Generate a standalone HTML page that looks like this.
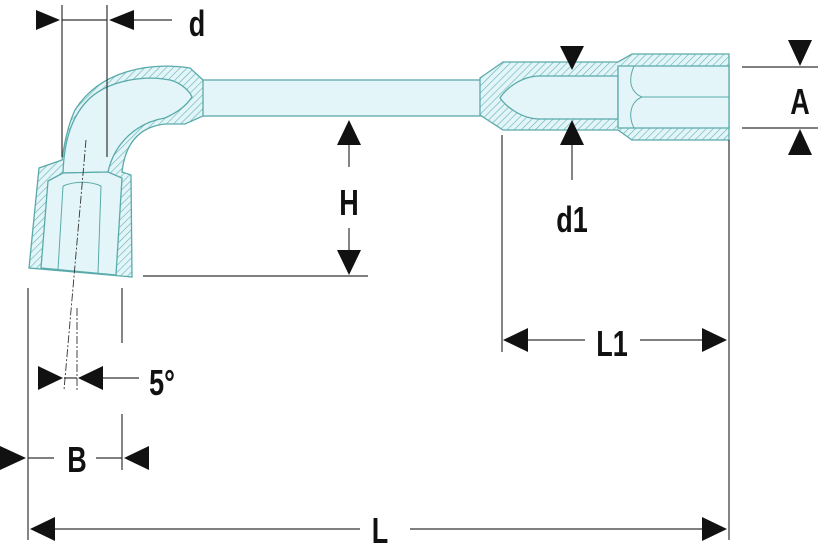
<!DOCTYPE html>
<html><head><style>
html,body{margin:0;padding:0;background:#fff;width:818px;height:547px;overflow:hidden}
svg{display:block}
text{font-family:"Liberation Sans",sans-serif;font-weight:bold;fill:#111}
</style></head><body>
<svg width="818" height="547" viewBox="0 0 818 547" xmlns="http://www.w3.org/2000/svg">
<defs>
<pattern id="h" patternUnits="userSpaceOnUse" width="5" height="5" patternTransform="rotate(45)">
<rect width="5" height="5" fill="#e3f5f8"/>
<line x1="0" y1="0" x2="0" y2="5" stroke="#5fb3b3" stroke-width="1.2"/>
</pattern>
</defs>
<g stroke="#5aaaaa" stroke-width="1.3">
<!-- shaft -->
<rect x="200" y="80" width="283" height="36" fill="#e3f5f8"/>
<!-- left bent head outer -->
<path d="M203,80 L190,68 C150,62 100,70 75,110 C68,125 64,145 62,160 L39,168 L29,268 L132,277 L131,175 L122,172 C125,145 138,127 165,124 L185,124 L203,116 Z" fill="url(#h)"/>
<path d="M63,173 C64,140 72,115 90,98 C110,80 145,75 170,80 C182,83 190,92 192,97 C186,106 178,112 165,118 C140,122 115,140 108,172 Z" fill="#e3f5f8"/>
<path d="M48,181 L63,173 L108,172 L122,178 L116,275 L41,268 Z" fill="#e3f5f8"/>
<path d="M63,186 L58,270 M101,186 L98,273 M63,186 C75,181 90,181 101,186" fill="none" stroke-width="1"/>
<!-- right head -->
<path d="M480,78 L503,62 L618,62 L632,54 L729,54 L729,140 L632,140 L618,130 L503,130 L480,115 Z" fill="url(#h)"/>
<path d="M540,76 L618,76 L618,119 L540,119 C520,119 505,105 500,98 C505,90 520,76 540,76 Z" fill="#e3f5f8"/>
<path d="M618,66 L729,66 L729,128 L618,128 Z" fill="#e3f5f8"/>
<path d="M634,66 C628,80 630,92 642,97 L729,97 M642,97 C630,102 628,116 634,128" fill="none" stroke-width="1"/>
</g>
<!-- dimension lines -->
<g stroke="#333" stroke-width="1.2" fill="none">
<line x1="62" y1="5" x2="62" y2="157"/><line x1="107" y1="5" x2="107" y2="157"/>
<line x1="62" y1="20" x2="107" y2="20"/><line x1="134" y1="20" x2="172" y2="20"/>
<line x1="349" y1="145" x2="349" y2="167"/><line x1="349" y1="228" x2="349" y2="250"/>
<line x1="143" y1="276" x2="368" y2="276"/>
<line x1="572" y1="145" x2="572" y2="180"/>
<line x1="742" y1="67" x2="818" y2="67"/><line x1="742" y1="128" x2="818" y2="128"/>
<line x1="502" y1="135" x2="502" y2="352"/><line x1="729" y1="140" x2="729" y2="540"/>
<line x1="528" y1="340" x2="585" y2="340"/><line x1="640" y1="340" x2="702" y2="340"/>
<line x1="28" y1="288" x2="28" y2="540"/>
<line x1="122" y1="288" x2="122" y2="343"/><line x1="122" y1="414" x2="122" y2="470"/>
<line x1="103" y1="378" x2="139" y2="378"/><line x1="64" y1="378" x2="77" y2="378"/>
<line x1="28" y1="458" x2="54" y2="458"/><line x1="96" y1="458" x2="122" y2="458"/>
<line x1="55" y1="529" x2="360" y2="529"/><line x1="410" y1="529" x2="702" y2="529"/>
<g stroke-width="0.9" stroke-dasharray="8,2,2,2">
<line x1="86" y1="140" x2="64" y2="390"/><line x1="77" y1="308" x2="77" y2="390"/>
</g>
</g>
<g fill="#111">
<polygon points="36,10 60,20 36,30"/><polygon points="134,10 109,20 134,30"/>
<polygon points="337,145 361,145 349,120"/><polygon points="337,250 361,250 349,275"/>
<polygon points="560,46 584,46 572,70"/><polygon points="560,145 584,145 572,120"/>
<polygon points="788,40 812,40 800,66"/><polygon points="788,155 812,155 800,129"/>
<polygon points="528,328 528,352 503,340"/><polygon points="702,328 702,352 727,340"/>
<polygon points="38,366 38,390 63,378"/><polygon points="103,366 103,390 78,378"/>
<polygon points="0,446 0,470 26,458"/><polygon points="149,446 149,470 124,458"/>
<polygon points="55,517 55,541 30,529"/><polygon points="702,517 702,541 727,529"/>
</g>
<g font-size="36">
<text x="197" y="36" text-anchor="middle" transform="translate(197 0) scale(0.75 1) translate(-197 0)">d</text>
<text x="349" y="215" text-anchor="middle" transform="translate(349 0) scale(0.75 1) translate(-349 0)">H</text>
<text x="572" y="232" text-anchor="middle" transform="translate(572 0) scale(0.75 1) translate(-572 0)">d1</text>
<text x="800" y="114" text-anchor="middle" transform="translate(800 0) scale(0.75 1) translate(-800 0)">A</text>
<text x="612" y="356" text-anchor="middle" transform="translate(612 0) scale(0.75 1) translate(-612 0)">L1</text>
<text x="162" y="395" text-anchor="middle" transform="translate(162 0) scale(0.75 1) translate(-162 0)">5°</text>
<text x="77" y="472" text-anchor="middle" transform="translate(77 0) scale(0.75 1) translate(-77 0)">B</text>
<text x="380" y="543" text-anchor="middle" transform="translate(380 0) scale(0.75 1) translate(-380 0)">L</text>
</g>
</svg>
</body></html>
